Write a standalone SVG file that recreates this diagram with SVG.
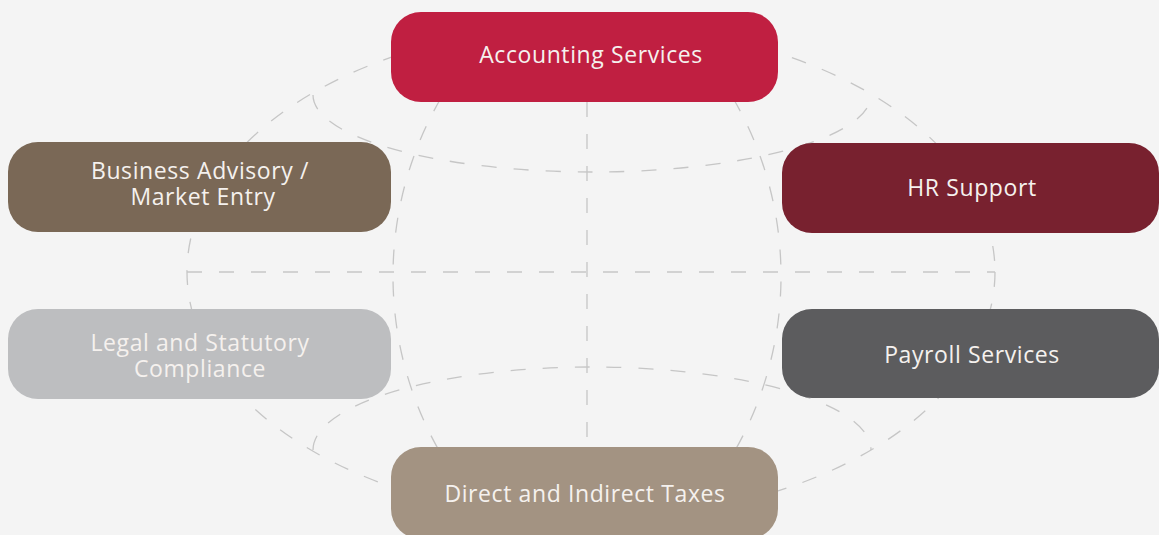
<svg xmlns="http://www.w3.org/2000/svg" width="1159" height="535" viewBox="0 0 1159 535">
<style>
.g{fill:none;stroke:#c6c6c6;stroke-width:1.3;stroke-dasharray:15 17}
.t{font-family:"Open Sans","Noto Sans","Liberation Sans",sans-serif;font-size:23px;letter-spacing:0.6px;fill:#f5f1ee;text-anchor:middle}
</style>
<rect width="1159" height="535" fill="#f4f4f4"/>
<g id="connectors">
<ellipse class="g" cx="591" cy="272" rx="404" ry="247"/>
<line class="g" x1="187" y1="272" x2="995" y2="272"/>
<line class="g" x1="587" y1="102" x2="587" y2="440"/>
<path class="g" d="M313,95 A279,77 0 0 0 871,95"/>
<path class="g" d="M313,450 A279,83 0 0 1 871,450"/>
<path class="g" d="M441,98 A354,354 0 0 0 441,454"/>
<path class="g" d="M733,98 A354,354 0 0 1 733,454"/>
</g>
<g id="accounting">
<rect x="391" y="12" width="387" height="90" rx="30" fill="#c01f41"/>
<text class="t" x="591" y="63">Accounting Services</text>
</g>
<g id="business">
<rect x="8" y="142" width="383" height="90" rx="30" fill="#7a6856"/>
<text class="t" x="200" y="179">Business Advisory /</text>
<text class="t" x="203" y="205">Market Entry</text>
</g>
<g id="hr">
<rect x="782" y="143" width="377" height="90" rx="30" fill="#78212f"/>
<text class="t" x="972" y="196">HR Support</text>
</g>
<g id="legal">
<rect x="8" y="309" width="383" height="90" rx="30" fill="#bdbec0"/>
<text class="t" x="200" y="351">Legal and Statutory</text>
<text class="t" x="200" y="377">Compliance</text>
</g>
<g id="payroll">
<rect x="782" y="309" width="377" height="89" rx="30" fill="#5c5c5e"/>
<text class="t" x="972" y="363">Payroll Services</text>
</g>
<g id="direct">
<rect x="391" y="447" width="387" height="92" rx="30" fill="#a39382"/>
<text class="t" x="585" y="502">Direct and Indirect Taxes</text>
</g>
</svg>
